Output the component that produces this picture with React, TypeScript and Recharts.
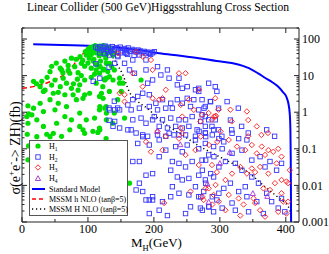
import React from 'react';
import { ComposedChart, Scatter, Line, XAxis, YAxis } from 'recharts';

// [M_H (GeV), sigma (fb)]
const h1Points: [number, number][] = [
  [96,45],[100,52],[103,58],[106,48],[108,62],[110,55],[112,42],[114,60],[116,50],[118,64],[120,45],[122,57],[124,38],[126,62],[128,50],[130,58],[132,44],[134,55],[105,38],[117,35],[99,40],[111,66],[123,66],[129,40],[135,48],[138,36],[141,42],[102,30],[109,28],[119,25],[127,30],
  [17.5,7],[27.5,5],[42.5,12.8],[60,14.3],[50,7.6],[62.5,8.5],[72.5,11.6],[80,17.6],[90,21.7],[97.5,36.6],[105,40],[32.5,3.7],[47.5,3.3],[67.5,6.2],[75,4.5],[87.5,5.6],[95,7.6],[112.5,14.3],[117.5,11.6],[132.5,9.4],[140,14.3],[122.5,5],[112.5,6.2],[77.5,3],[42.5,2.2],[55,1.76],[67.5,1.43],[82.5,2.2],[92.5,2.4],[102.5,3.3],[117.5,2.7],[132.5,3.7],[27.5,1.76],[17.5,1.29],[15,0.85],[32.5,1.04],[50,1.16],[65,0.76],[75,0.62],[87.5,0.95],[97.5,0.62],[110,0.69],[117.5,1.16],[127.5,1.43],[140,0.95],[145,2.2],[87.5,0.41],[72.5,0.33],[52.5,0.5],[32.5,0.41],[22.5,0.62],[7.5,0.76],[137.5,0.5],[117.5,0.37],
  [45,18],[52,22],[58,16],[65,25],[70,19],[75,30],[82,28],[88,33],[92,26],[70,14],[62,12],[85,12],[95,18],[100,22],[105,16],[108,25],[113,20],[118,18],[124,15],[128,22],[84,8],[90,10],[78,6],[58,5],[38,9],[30,7],[22,6],[35,4],[45,5.5],[55,3.5],[65,3],[85,4],[95,3],[105,9],[110,11],[125,8],[130,13],[136,18],
  [118,17.6],[123,14.3],[128,21.7],[133,21.7],[125.5,7.6],[128,8.5],[138,7.6],[148,8.5],[148,6.2],[153,6.2],[150.5,3.7],[120.5,3.3],[123,2.4],[118,1.43],[125.5,1.29],[128,0.95],[155.5,0.69],[128,0.62],[118,0.33],[180.5,7.6],
  [22.5,0.215],[37.5,0.25],[42.5,0.215],[47.5,0.265],[60,0.22],[92.5,0.33],[95,0.265],[107.5,0.3],[115,0.28],[127.5,0.19],[9,1.5],[10,0.9],[9,0.5],[8,0.25],[10,0.12],[9,0.05],[40,0.08],[70,0.05],[100,0.03],[60,0.01],[132,0.02],[130,0.05],[135,0.008],[163,0.0115],[130,0.11],
];

const h2Points: [number, number][] = [
  [112,60],[115,55],[118,62],[120,50],[123,58],[126,64],[128,52],[131,60],[134,56],[137,62],[140,50],[143,58],[146,54],[149,60],[152,48],[155,55],[158,52],[161,57],[164,46],[167,52],[170,49],[173,44],[176,50],[179,47],[182,42],[185,46],[188,40],[191,44],[195,38],[198,42],[130,45],[138,40],[150,42],[160,38],[125,40],[145,35],[170,36],[118,42],[135,48],[156,44],
  [112,21],[132,17],[108,7],[118,8.5],[140,2],[132,1.3],[145,1.3],[132,0.6],
  [133,36.6],[145.5,33],[158,40.7],[178,36.6],[193,40.7],[200.5,45],[188,26.8],[168,26.8],[155.5,21.7],[140.5,21.7],[163,14.3],[188,14.3],[205.5,17.6],[220.5,14.3],[210.5,10.4],[198,7.6],[170.5,11.6],[190.5,6.2],[238,8.5],[223,8.5],[243,4.5],[235.5,5.6],[250.5,5],[263,4.1],[268,3.7],[283,6.2],[293,5],[295.5,3.7],[250.5,2.4],[260.5,2.2],[273,2.2],[285.5,1.95],[278,1.43],[268,1.16],[255.5,1.43],[243,1.76],[235.5,2.2],[225.5,1.76],[213,2.2],[203,1.76],[193,3],[183,3.3],[175.5,2.7],[168,2.2],[160.5,1.58],[148,1.16],[140.5,1.16],[133,1.16],[165.5,1.16],[178,1.29],[193,1.43],[205.5,1.16],[218,1.29],[228,1.29],[200.5,0.76],[213,0.62],[225.5,0.69],[238,0.62],[248,0.62],[258,0.76],[273,0.85],[283,0.62],[293,0.62],[278,0.41],[265.5,0.33],[253,0.41],[243,0.37],[233,0.41],[220.5,0.37],[208,0.41],[198,0.62],[188,0.5],[180.5,0.69],[168,0.62],[160.5,0.33],[148,0.37],[173,0.27],[183,0.24],[190.5,0.22],[205.5,0.24],[218,0.22],[230.5,0.24],[248,0.24],[263,0.22],[278,0.27],[290.5,0.33],[140.5,0.56],[138,0.41],
  [268,4.5],[286,1.95],[311,1.95],[298,1.29],[276,1.29],[328,1.29],[278,0.76],[271,0.56],[288,0.41],[316,0.61],[333,0.41],[343,0.27],[371,0.33],[383,0.22],[318,0.33],[298,0.33],[278,0.27],[303,0.22],
  [165.5,0.33],[183,0.215],[175.5,0.14],[193,0.127],[208,0.175],[223,0.265],[238,0.24],[233,0.115],[243,0.083],[250.5,0.127],[263,0.175],[268,0.1],[278,0.14],[290.5,0.115],[283,0.068],[273,0.049],[258,0.045],[248,0.032],[238,0.04],[228,0.045],[225.5,0.026],[235.5,0.017],[243,0.0141],[253,0.0155],[268,0.019],[278,0.0141],[290.5,0.017],[263,0.0092],[275.5,0.0068],[268,0.0049],[253,0.0055],[238,0.0061],[228,0.0092],[225.5,0.0049],[198,0.0049],[213,0.0036],[220.5,0.0015],[178,0.0115],[173,0.0075],[183,0.0068],[188,0.004],[193,0.004],[198,0.004],[208,0.0021],[193,0.0017],[168,0.045],[178,0.045],[218,0.092],[208,0.061],[198,0.021],[188,0.019],[295.5,0.004],[283,0.0026],[290.5,0.0019],[270.5,0.0024],[255.5,0.0026],[248,0.0017],
  [268.5,0.3],[278.5,0.215],[288.5,0.24],[298.5,0.19],[306,0.155],[318.5,0.265],[328.5,0.19],[341,0.175],[333.5,0.092],[318.5,0.075],[303.5,0.1],[291,0.061],[278.5,0.049],[273.5,0.026],[286,0.021],[298.5,0.032],[308.5,0.045],[323.5,0.04],[333.5,0.026],[348.5,0.049],[361,0.061],[368.5,0.032],[376,0.045],[386,0.026],[393.5,0.04],[348.5,0.017],[358.5,0.0115],[338.5,0.0092],[328.5,0.0068],[316,0.0115],[306,0.0083],[298.5,0.0061],[288.5,0.0049],[283.5,0.0026],[303.5,0.0024],[318.5,0.0033],[323.5,0.0021],[341,0.0049],[356,0.0036],[371,0.0061],[378.5,0.0036],[388.5,0.0024],[393.5,0.0044],[398.5,0.0019],[366,0.0017],[343.5,0.0019],[278.5,0.0115],[271,0.0049],[273.5,0.0021],
];

const h3Points: [number, number][] = [
  [145.5,40.7],[173,45],[183,33],[195.5,26.8],[198,14.3],[168,11.6],[155.5,3],[238,11.6],[248,11.6],[268,4.1],[218,4.1],[213,2.4],[208,2.2],[253,2.2],[240.5,1.58],[243,0.76],[273,0.85],[283,0.95],[293,0.76],[288,0.62],[270.5,0.56],[260.5,1.16],[218,0.22],[240.5,0.37],[198,2.4],[183,5],[155.5,1.95],[148,3.3],
  [293,2.4],[298,1.17],[316,1.17],[341,1.05],[291,0.76],[294,0.8],[343,0.61],[318,0.56],[356,0.41],[301,0.3],[363,0.24],[373,0.27],[343,0.22],
  [188,0.155],[205.5,0.3],[243,0.265],[248,0.068],[263,0.092],[268,0.036],[288,0.036],[295.5,0.023],[255.5,0.0068],[283,0.0083],[290.5,0.0055],[275.5,0.004],[215.5,0.0033],[195.5,0.083],[238,0.19],[213,0.092],
  [271,0.215],[283.5,0.127],[296,0.155],[313.5,0.175],[326,0.115],[338.5,0.092],[348.5,0.127],[356,0.075],[363.5,0.115],[368.5,0.068],[373.5,0.092],[381,0.083],[388.5,0.1],[393.5,0.061],[386,0.04],[373.5,0.021],[361,0.032],[353.5,0.023],[348.5,0.029],[341,0.021],[331,0.032],[318.5,0.021],[308.5,0.0141],[293.5,0.0103],[278.5,0.0083],[273.5,0.0049],[298.5,0.0036],[313.5,0.0055],[328.5,0.0044],[331,0.0015],[336,0.003],[351,0.0044],[366,0.0083],[376,0.0075],[383.5,0.0115],[393.5,0.0061],[396,0.0036],[401,0.0017],[403.5,0.0036],[388.5,0.0019],[368.5,0.0014],[353.5,0.0033],[361,0.0021],[308.5,0.0021],[288.5,0.003],[393.5,0.0141],[401,0.0128],[406,0.026],[403.5,0.0115],
];

const h4Points: [number, number][] = [
  [281,0.011],[283,0.0035],[205,0.3],[240,0.13],[300,0.04],[350,0.006],[372,0.005],[315,0.08],
];

const smCurve: [number, number][] = [
  [17,72],[60,69],[118,64],[150,57],[178,50],[208,41],[240,35],[268,30],[295,25],[318,22],[335,18.5],[344,16],[358,11.5],[369,8.6],[380,6.5],[389,4.9],[396,3.5],[401,2.6],[404,1.7],[406,0.9],[407,0.3],[407.5,0.05],[408,0.001],
];

const mssmhCurve: [number, number][] = [
  [0,4.5],[17.5,5],[30,5.7],[43,6.8],[55,8.5],[63,10.4],[72,14.5],[80,21.6],[88,31],[95,45],[100,55],[105,64],[110,68],
];

const mssmHCurve: [number, number][] = [
  [120,60],[128,52],[133,42],[143,22],[153,10.4],[163,3.5],[174,2.1],[193,1.15],[204,0.74],[223,0.4],[243,0.24],[265,0.13],[288,0.077],[318,0.041],[344,0.022],[369,0.009],[393,0.004],[404,0.0026],[409,0.0014],
];

const xTickValues = [0, 50, 100, 150, 200, 250, 300, 350, 400];
const xTickLabels = [0, 100, 200, 300, 400];
const yDecades = [0.001, 0.01, 0.1, 1, 10, 100];
const yMultipliers = [1, 2, 3, 4, 5, 6, 7, 8, 9];
const yTickValues = yDecades.flatMap((d) => yMultipliers.map((m) => +(m * d).toPrecision(3))).filter((v) => v <= 200);

const X_DOMAIN: [number, number] = [0, 420];
const Y_DOMAIN: [number, number] = [0.001, 200];

const FONT = "'Liberation Serif', 'Times New Roman', serif";

const toXY = (arr: [number, number][]) => arr.map(([x, y]) => ({ x, y }));
const isDecade = (v: number) => Math.abs(Math.log10(v) - Math.round(Math.log10(v))) < 1e-6;

const GreenDot = (p: any) => <circle cx={p.cx} cy={p.cy} r={2.6} fill="#00dd00" />;
const BlueSquare = (p: any) => (
  <rect x={p.cx - 2.2} y={p.cy - 2.2} width={4.4} height={4.4} fill="none" stroke="#3535ff" strokeWidth={0.9} />
);
const RedDiamond = (p: any) => (
  <path d={`M${p.cx},${p.cy - 2.7}L${p.cx + 2.7},${p.cy}L${p.cx},${p.cy + 2.7}L${p.cx - 2.7},${p.cy}Z`} fill="none" stroke="#ff1a1a" strokeWidth={0.9} />
);
const PurpleTri = (p: any) => (
  <path d={`M${p.cx},${p.cy - 2.8}L${p.cx + 2.6},${p.cy + 2}L${p.cx - 2.6},${p.cy + 2}Z`} fill="none" stroke="#a033d0" strokeWidth={0.9} />
);

const BottomTick = (p: any) => {
  const v = p.payload.value;
  const major = xTickLabels.includes(v);
  return (
    <g>
      <line x1={p.x} x2={p.x} y1={p.y} y2={p.y - (major ? 5 : 3)} stroke="#222" />
      {major && (
        <text x={p.x} y={p.y + 10.5} textAnchor="middle" fontSize={12} fontFamily={FONT} fill="#000">{v}</text>
      )}
    </g>
  );
};
const TopTick = (p: any) => {
  const major = xTickLabels.includes(p.payload.value);
  return <line x1={p.x} x2={p.x} y1={p.y} y2={p.y + (major ? 5 : 3)} stroke="#222" />;
};
const LeftTick = (p: any) => {
  const major = isDecade(p.payload.value);
  return <line x1={p.x} x2={p.x + (major ? 5 : 2.5)} y1={p.y} y2={p.y} stroke="#222" />;
};
const RightTick = (p: any) => {
  const v = p.payload.value;
  const major = isDecade(v);
  return (
    <g>
      <line x1={p.x} x2={p.x - (major ? 5 : 2.5)} y1={p.y} y2={p.y} stroke="#222" />
      {major && (
        <text x={p.x + 3} y={p.y} dy="0.35em" textAnchor="start" fontSize={12} fontFamily={FONT} fill="#000">{String(v)}</text>
      )}
    </g>
  );
};

const LegendBox = () => {
  const rows = [
    { y: 146, kind: 'dot', label: <>H<tspan fontSize={5.5} dy={2}>1</tspan></> },
    { y: 157, kind: 'sq', label: <>H<tspan fontSize={5.5} dy={2}>2</tspan></> },
    { y: 167.5, kind: 'dia', label: <>H<tspan fontSize={5.5} dy={2}>3</tspan></> },
    { y: 178.5, kind: 'tri', label: <>H<tspan fontSize={5.5} dy={2}>4</tspan></> },
    { y: 189, kind: 'sm', label: <>Standard Model</> },
    { y: 199, kind: 'h', label: <>MSSM h NLO (tanβ=5)</> },
    { y: 209, kind: 'H', label: <>MSSM H NLO (tanβ=5)</> },
  ];
  return (
    <g>
      <rect x={29.5} y={140.5} width={98} height={75} fill="#fff" stroke="#555" strokeWidth={1} />
      {rows.map((r, i) => {
        const cx = 38;
        const cy = r.y;
        let sym: React.ReactNode = null;
        if (r.kind === 'dot') sym = <GreenDot cx={cx} cy={cy} />;
        if (r.kind === 'sq') sym = <BlueSquare cx={cx} cy={cy} />;
        if (r.kind === 'dia') sym = <RedDiamond cx={cx} cy={cy} />;
        if (r.kind === 'tri') sym = <PurpleTri cx={cx} cy={cy} />;
        if (r.kind === 'sm') sym = <line x1={32} x2={45} y1={cy} y2={cy} stroke="#0000ff" strokeWidth={2} />;
        if (r.kind === 'h') sym = <line x1={32} x2={46} y1={cy} y2={cy} stroke="#ff0000" strokeWidth={1.5} strokeDasharray="4 3" />;
        if (r.kind === 'H') sym = <line x1={32} x2={46} y1={cy} y2={cy} stroke="#000" strokeWidth={1.5} strokeDasharray="1.2 2.8" />;
        return (
          <g key={i}>
            {sym}
            <text x={49} y={cy} dy="0.33em" fontSize={8} fontFamily={FONT} fill="#000">{r.label}</text>
          </g>
        );
      })}
    </g>
  );
};

export default function App() {
  return (
    <div style={{ position: 'absolute', left: 0, top: 0, width: 329, height: 254, background: '#fff' }}>
      <ComposedChart width={329} height={254} margin={{ top: 27, right: 0, bottom: 0, left: 21 }}>
        <XAxis xAxisId="top" orientation="top" type="number" dataKey="x" domain={X_DOMAIN} allowDataOverflow
          ticks={xTickValues} interval={0} height={1} tickSize={0} tickMargin={0} tickLine={false}
          tick={<TopTick />} axisLine={{ stroke: '#222' }} />
        <XAxis xAxisId="b" orientation="bottom" type="number" dataKey="x" domain={X_DOMAIN} allowDataOverflow
          ticks={xTickValues} interval={0} height={32} tickSize={0} tickMargin={0} tickLine={false}
          tick={<BottomTick />} axisLine={{ stroke: '#222' }} />
        <YAxis yAxisId="l" orientation="left" type="number" scale="log" dataKey="y" domain={Y_DOMAIN} allowDataOverflow
          ticks={yTickValues} interval={0} width={1} tickSize={0} tickMargin={0} tickLine={false}
          tick={<LeftTick />} axisLine={{ stroke: '#222' }} />
        <YAxis yAxisId="r" orientation="right" type="number" scale="log" dataKey="y" domain={Y_DOMAIN} allowDataOverflow
          ticks={yTickValues} interval={0} width={30} tickSize={0} tickMargin={0} tickLine={false}
          tick={<RightTick />} axisLine={{ stroke: '#222' }} />
        <Scatter xAxisId="b" yAxisId="r" data={toXY(h1Points)} dataKey="y" shape={<GreenDot />} isAnimationActive={false} />
        <Scatter xAxisId="b" yAxisId="r" data={toXY(h2Points)} dataKey="y" shape={<BlueSquare />} isAnimationActive={false} />
        <Scatter xAxisId="b" yAxisId="r" data={toXY(h3Points)} dataKey="y" shape={<RedDiamond />} isAnimationActive={false} />
        <Scatter xAxisId="b" yAxisId="r" data={toXY(h4Points)} dataKey="y" shape={<PurpleTri />} isAnimationActive={false} />
        <Line xAxisId="b" yAxisId="r" data={toXY(mssmHCurve)} dataKey="y" type="monotone" dot={false} stroke="#000" strokeWidth={1.5} strokeDasharray="1.2 2.8" isAnimationActive={false} />
        <Line xAxisId="b" yAxisId="r" data={toXY(mssmhCurve)} dataKey="y" type="monotone" dot={false} stroke="#ff0000" strokeWidth={1.5} strokeDasharray="5 3" isAnimationActive={false} />
        <Line xAxisId="b" yAxisId="r" data={toXY(smCurve)} dataKey="y" type="monotone" dot={false} stroke="#0000ff" strokeWidth={2} isAnimationActive={false} />
      </ComposedChart>
      <svg width={329} height={254} style={{ position: 'absolute', left: 0, top: 0, pointerEvents: 'none' }}>
        <text x={158} y={11} textAnchor="middle" fontSize={12} textLength={262} lengthAdjust="spacingAndGlyphs" fontFamily={FONT} fill="#000">
          Linear Collider (500 GeV)Higgsstrahlung Cross Section
        </text>
        <text x={131} y={247} fontSize={13} fontFamily={FONT} fill="#000">
          M<tspan fontSize={8.5} dy={3.5}>H</tspan><tspan dy={-3.5}>(GeV)</tspan>
        </text>
        <text transform="translate(19.5,148) rotate(-90)" textAnchor="middle" fontSize={14} fontFamily={FONT} fill="#000">
          σ(e<tspan fontSize={9} dy={-6}>+</tspan><tspan dy={6}>e</tspan><tspan fontSize={9} dy={-6}>-</tspan><tspan dy={6}>-&gt; ZH)(fb)</tspan>
        </text>
        <LegendBox />
      </svg>
    </div>
  );
}
